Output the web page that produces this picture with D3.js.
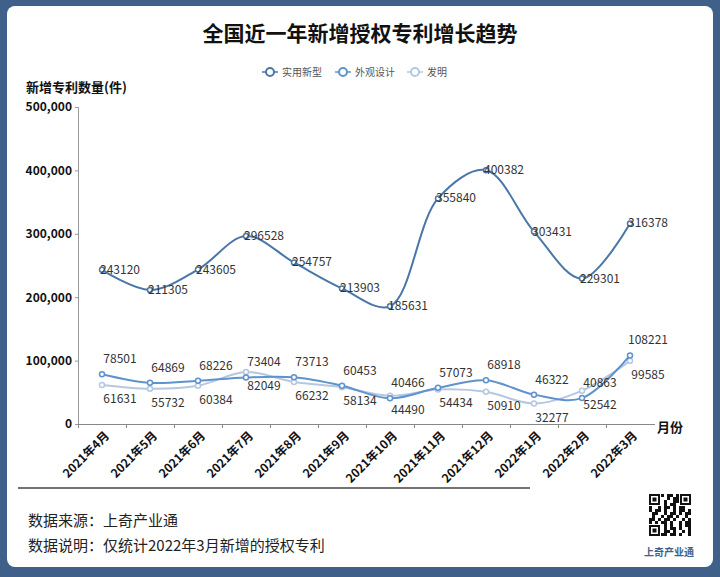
<!DOCTYPE html>
<html><head><meta charset="utf-8">
<script src="https://cdn.jsdelivr.net/npm/d3@7"></script>
<style>body{margin:0;background:#3f6189;} text{font-family:"Noto Sans CJK SC","Noto Sans",sans-serif;}</style>
</head><body>
<svg id="chart" width="720" height="577"></svg>
<script>
const months = ["2021年4月","2021年5月","2021年6月","2021年7月","2021年8月","2021年9月","2021年10月","2021年11月","2021年12月","2022年1月","2022年2月","2022年3月"];
const utility = [243120,211305,243605,296528,254757,213903,185631,355840,400382,303431,229301,316378];
const design = [78501,64869,68226,73404,73713,60453,40466,57073,68918,46322,40863,108221];
const invention = [61631,55732,60384,82049,66232,58134,44490,54434,50910,32277,52542,99585];
const seriesNames = ["实用新型","外观设计","发明"];
const yTicks = [0,100000,200000,300000,400000,500000];

const svg = d3.select("#chart");
svg.append("rect").attr("width",720).attr("height",577).attr("fill","#3f6189");
svg.append("rect").attr("x",7).attr("y",6).attr("width",706).attr("height",561).attr("rx",8).attr("fill","#fff");

svg.append("text").attr("x",360).attr("y",41).attr("text-anchor","middle")
  .attr("font-size",21).attr("font-weight","bold").attr("fill","#111").text("全国近一年新增授权专利增长趋势");

const x = d3.scalePoint().domain(months).range([102,630]);
const y = d3.scaleLinear().domain([0,500000]).range([424,107]);

const g = svg.append("g");
const yAxis = g.append("g").attr("transform","translate(78,0)")
  .call(d3.axisLeft(y).tickValues(yTicks).tickFormat(d3.format(",")).tickSize(3));
yAxis.selectAll("text").attr("font-size",12).attr("font-weight","bold").attr("fill","#111");
yAxis.selectAll("line,path").attr("stroke","#999");

const xAxis = g.append("g").attr("transform","translate(0,424)")
  .call(d3.axisBottom(x).tickSize(4));
xAxis.select(".domain").attr("d","M78,0.5H655").attr("stroke","#888");
xAxis.selectAll("line").attr("stroke","#888").attr("transform",`translate(${-24},0)`);
xAxis.selectAll("text").attr("font-size",12).attr("font-weight","bold").attr("fill","#111")
  .attr("text-anchor","end").attr("dx","-0.3em").attr("dy","0.6em").attr("transform","rotate(-45)");

svg.append("text").attr("x",26).attr("y",92).attr("font-size",13).attr("font-weight","bold").attr("fill","#111").text("新增专利数量(件)");
svg.append("text").attr("x",657).attr("y",432).attr("font-size",13).attr("font-weight","bold").attr("fill","#111").text("月份");

const colors = ["#4a77a8","#5f93cc","#b5c7e2"];
const data = [utility, design, invention];
const line = d3.line().x((d,i)=>x(months[i])).y(d=>y(d)).curve(d3.curveCatmullRom.alpha(0.5));
[2,1,0].forEach(k=>{
  g.append("path").attr("d",line(data[k])).attr("fill","none").attr("stroke",colors[k]).attr("stroke-width",2);
  g.selectAll(null).data(data[k]).join("circle").attr("cx",(d,i)=>x(months[i])).attr("cy",d=>y(d))
    .attr("r",2.5).attr("fill","#fff").attr("stroke",colors[k]).attr("stroke-width",1.5);
});

// labels
const lab = (vals, dy) => g.selectAll(null).data(vals).join("text")
  .attr("x",(d,i)=>x(months[i])+18).attr("y",(d,i)=>y(d)+dy(i)).attr("text-anchor","middle")
  .attr("font-size",12).attr("fill","#333").text(d=>d);
lab(utility, i=>4);
lab(design, i=>-11);
lab(invention, i=>18);

// legend
const lg = svg.append("g").attr("transform","translate(270,72)");
const lx = [0,73,145];
seriesNames.forEach((n,k)=>{
  const e = lg.append("g").attr("transform",`translate(${lx[k]},0)`);
  e.append("line").attr("x1",-8).attr("x2",8).attr("stroke",colors[k]).attr("stroke-width",1.5);
  e.append("circle").attr("r",4).attr("fill","#fff").attr("stroke",colors[k]).attr("stroke-width",2);
  e.append("text").attr("x",12).attr("y",4).attr("font-size",10).attr("fill","#555").text(n);
});

svg.append("line").attr("x1",18).attr("x2",530).attr("y1",488).attr("y2",488).attr("stroke","#444").attr("stroke-width",1.5);
svg.append("text").attr("x",28).attr("y",526).attr("font-size",15).attr("fill","#222").text("数据来源：上奇产业通");
svg.append("text").attr("x",28).attr("y",551).attr("font-size",15).attr("fill","#222").text("数据说明：仅统计2022年3月新增的授权专利");

// qr-like mark
const qr = svg.append("g").attr("transform","translate(649,494)");
qr.append("rect").attr("width",42).attr("height",42).attr("fill","#fff");
const finder = (cx,cy)=>{
  qr.append("rect").attr("x",cx).attr("y",cy).attr("width",11).attr("height",11).attr("fill","#111");
  qr.append("rect").attr("x",cx+2).attr("y",cy+2).attr("width",7).attr("height",7).attr("fill","#fff");
  qr.append("rect").attr("x",cx+3.5).attr("y",cy+3.5).attr("width",4).attr("height",4).attr("fill","#111");
};
finder(0,0);finder(31,0);finder(0,31);
const bits = "1011010010110100110101101001011010110010110100101101011001011010110100101101001011010110100101101011010010110101001011010110100101101001011";
let b=0;
for(let r=0;r<14;r++)for(let c=0;c<14;c++){
  if((r<4&&c<4)||(r<4&&c>9)||(r>9&&c<4)) continue;
  if(bits[(b++)%bits.length]==="1") qr.append("rect").attr("x",c*3).attr("y",r*3).attr("width",3).attr("height",3).attr("fill","#111");
}
svg.append("text").attr("x",669).attr("y",556).attr("text-anchor","middle").attr("font-size",10).attr("font-weight","bold").attr("fill","#3f6189").text("上奇产业通");
</script>
</body></html>
